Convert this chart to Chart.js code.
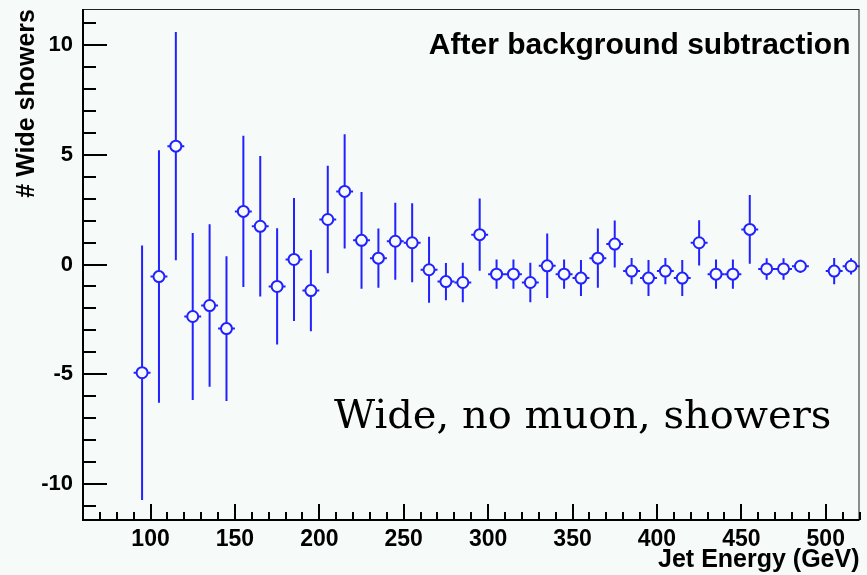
<!DOCTYPE html>
<html>
<head>
<meta charset="utf-8">
<title>Wide showers after background subtraction</title>
<script src="https://cdn.jsdelivr.net/npm/chart.js@4.4.1/dist/chart.umd.min.js"></script>
<style>
  html, body { margin: 0; padding: 0; background: #f6faf8; }
  #wrap { width: 867px; height: 575px; }
</style>
</head>
<body>
<div id="wrap"><canvas id="myChart" width="867" height="575"></canvas></div>
<script>
// bin centres (GeV), 10 GeV bins, the 490-500 bin is empty
const energies = [95, 105, 115, 125, 135, 145, 155, 165, 175, 185, 195, 205, 215, 225,
                  235, 245, 255, 265, 275, 285, 295, 305, 315, 325, 335, 345, 355, 365,
                  375, 385, 395, 405, 415, 425, 435, 445, 455, 465, 475, 485, 505, 515];
const showers = [-4.93, -0.55, 5.39, -2.37, -1.87, -2.92, 2.42, 1.74, -1.0, 0.23, -1.19, 2.05, 3.33, 1.1,
                 0.29, 1.06, 0.99, -0.24, -0.78, -0.82, 1.36, -0.44, -0.44, -0.82, -0.06, -0.44, -0.62, 0.29,
                 0.93, -0.3, -0.62, -0.3, -0.62, 0.99, -0.44, -0.44, 1.6, -0.2, -0.2, -0.08, -0.3, -0.08];
const errors = [5.8, 5.75, 5.2, 3.8, 3.7, 3.3, 3.45, 3.2, 2.65, 2.8, 1.85, 2.45, 2.6, 2.2,
                1.35, 1.75, 1.8, 1.5, 0.85, 0.9, 1.65, 0.67, 0.67, 0.9, 1.47, 0.67, 0.82, 1.35,
                1.07, 0.6, 0.82, 0.6, 0.82, 1.03, 0.67, 0.67, 1.57, 0.49, 0.49, 0.3, 0.6, 0.37];
const binHalfWidth = 5;

const xTicks = [100, 150, 200, 250, 300, 350, 400, 450, 500];
const yTicks = [-10, -5, 0, 5, 10];

const BG = '#f6faf8';
const BLUE = '#2222ff';

Chart.defaults.font.family = "'Liberation Sans', Arial, sans-serif";
Chart.defaults.color = '#000';

// background of the whole picture
const bgPlugin = {
    id: 'bg',
    beforeDraw(chart) {
        const ctx = chart.ctx;
        ctx.save();
        ctx.fillStyle = BG;
        ctx.fillRect(0, 0, chart.width, chart.height);
        ctx.restore();
    }
};

// error bars, drawn under the markers
const errorBars = {
    id: 'errorBars',
    beforeDatasetsDraw(chart) {
        const ctx = chart.ctx;
        const x = chart.scales.x, y = chart.scales.y;
        ctx.save();
        ctx.strokeStyle = BLUE;
        ctx.lineWidth = 2;
        energies.forEach((e, i) => {
            const px = x.getPixelForValue(e);
            const py = y.getPixelForValue(showers[i]);
            ctx.beginPath();
            ctx.moveTo(px, y.getPixelForValue(showers[i] + errors[i]));
            ctx.lineTo(px, y.getPixelForValue(showers[i] - errors[i]));
            ctx.moveTo(x.getPixelForValue(e - binHalfWidth), py);
            ctx.lineTo(x.getPixelForValue(e + binHalfWidth), py);
            ctx.stroke();
        });
        ctx.restore();
    }
};

// ROOT style frame with ticks on the inside, plus the two labels
const frame = {
    id: 'frame',
    afterDraw(chart) {
        const ctx = chart.ctx;
        const a = chart.chartArea;
        const x = chart.scales.x, y = chart.scales.y;
        ctx.save();
        ctx.strokeStyle = '#222';
        ctx.lineWidth = 1;
        ctx.strokeRect(a.left + 0.5, a.top + 0.5, a.right - a.left - 1, a.bottom - a.top - 1);

        ctx.strokeStyle = '#000';
        ctx.lineWidth = 2;
        ctx.beginPath();
        ctx.moveTo(a.left, a.top);
        ctx.lineTo(a.left, a.bottom);
        ctx.lineTo(a.right, a.bottom);
        // x ticks every 10 GeV, long ones every 50
        for (let v = Math.ceil(x.min / 10) * 10; v <= x.max; v += 10) {
            const px = Math.round(x.getPixelForValue(v));
            const len = v % 50 === 0 ? 16 : 8;
            ctx.moveTo(px, a.bottom);
            ctx.lineTo(px, a.bottom - len);
        }
        // y ticks every 1, long ones every 5
        for (let v = Math.ceil(y.min); v <= y.max; v += 1) {
            const py = Math.round(y.getPixelForValue(v));
            const len = v % 5 === 0 ? 24 : 13;
            ctx.moveTo(a.left, py);
            ctx.lineTo(a.left + len, py);
        }
        ctx.stroke();

        ctx.fillStyle = '#000';
        ctx.textAlign = 'right';
        ctx.textBaseline = 'alphabetic';
        ctx.font = "bold 30px 'Liberation Sans', Arial, sans-serif";
        ctx.fillText('After background subtraction', a.right - 9, a.top + 45);

        ctx.textAlign = 'left';
        ctx.font = "40px 'DejaVu Serif', serif";
        ctx.fillText('Wide, no muon, showers', 334, 428);
        ctx.restore();
    }
};

new Chart(document.getElementById('myChart'), {
    type: 'scatter',
    data: {
        datasets: [{
            label: 'Wide showers',
            data: energies.map((e, i) => ({ x: e, y: showers[i] })),
            pointStyle: 'circle',
            pointRadius: 5.5,
            pointBorderWidth: 2,
            pointBorderColor: BLUE,
            pointBackgroundColor: BG
        }]
    },
    options: {
        responsive: false,
        animation: false,
        layout: { padding: { top: 9, right: 3, left: 0, bottom: 0 } },
        plugins: {
            legend: { display: false },
            tooltip: { enabled: false }
        },
        scales: {
            x: {
                type: 'linear',
                min: 60,
                max: 520,
                grid: { display: false, drawTicks: false },
                border: { display: false },
                afterBuildTicks: s => { s.ticks = xTicks.map(v => ({ value: v })); },
                afterFit: s => { s.height = 55; s.paddingLeft = 0; s.paddingRight = 0; },
                ticks: {
                    padding: 6,
                    maxRotation: 0,
                    font: { size: 23, weight: 'bold' },
                    color: '#000'
                },
                title: {
                    display: true,
                    text: 'Jet Energy (GeV)',
                    align: 'end',
                    font: { size: 25, weight: 'bold' },
                    color: '#000',
                    padding: { top: 0, bottom: 0 }
                }
            },
            y: {
                min: -11.64,
                max: 11.64,
                grid: { display: false, drawTicks: false },
                border: { display: false },
                afterBuildTicks: s => { s.ticks = yTicks.map(v => ({ value: v })); },
                afterFit: s => { s.width = 83; s.paddingTop = 0; s.paddingBottom = 0; },
                ticks: {
                    padding: 10,
                    font: { size: 22, weight: 'bold' },
                    color: '#000'
                },
                title: {
                    display: true,
                    text: '# Wide showers',
                    align: 'end',
                    font: { size: 25, weight: 'bold' },
                    color: '#000',
                    padding: { top: 12, bottom: 0 }
                }
            }
        }
    },
    plugins: [bgPlugin, errorBars, frame]
});
</script>
</body>
</html>
